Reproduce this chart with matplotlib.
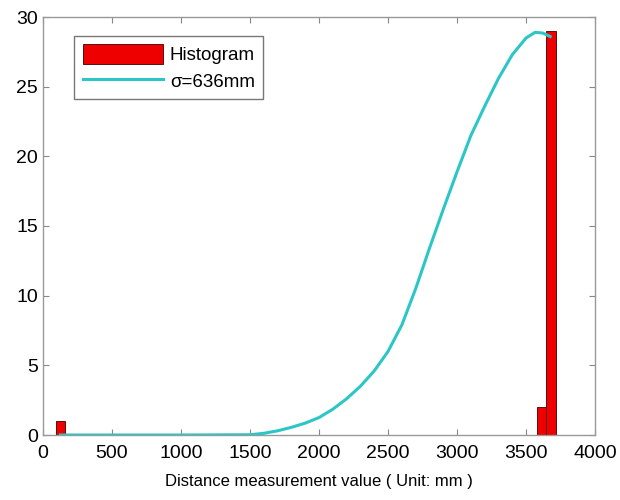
import matplotlib
matplotlib.use("Agg")
import matplotlib.pyplot as plt

plt.rcParams['font.family'] = ['Liberation Sans', 'DejaVu Sans']

# histogram bins (centre, count)
bin_centers = [128, 3612, 3680]
bin_counts = [1, 2, 29]
bin_width = 67

# fitted curve
curve_x = [128, 500, 1000, 1500, 1600, 1700, 1800, 1900, 2000, 2100, 2200,
           2300, 2400, 2500, 2600, 2700, 2800, 2900, 3000, 3100, 3200, 3300,
           3400, 3500, 3565, 3620, 3674]
curve_y = [0, 0, 0, 0.02, 0.12, 0.3, 0.55, 0.85, 1.25, 1.85, 2.6,
           3.5, 4.6, 6.0, 7.9, 10.5, 13.4, 16.2, 18.9, 21.5, 23.6, 25.6,
           27.3, 28.5, 28.9, 28.85, 28.6]

fig = plt.figure(figsize=(6.2, 5.0), dpi=100)
ax = fig.add_axes([0.069, 0.13, 0.891, 0.836])

bars = ax.bar(bin_centers, bin_counts, width=bin_width, color='#ee0000',
              edgecolor='#5a1010', linewidth=0.7, zorder=2)
line, = ax.plot(curve_x, curve_y, color='#2cc6c6', linewidth=2.2, zorder=3)

ax.set_xlim(0, 4000)
ax.set_ylim(0, 30)
ax.set_xticks(range(0, 4001, 500))
ax.set_yticks(range(0, 31, 5))
ax.tick_params(direction='in', top=True, right=True, labelsize=14,
               color='#888888', length=4)
ax.tick_params(axis='x', pad=7)
for s in ax.spines.values():
    s.set_color('#999999')
    s.set_linewidth(1.0)

ax.set_xlabel('Distance measurement value ( Unit: mm )', fontsize=12, labelpad=9)

leg = ax.legend([bars, line], ['Histogram', 'σ=636mm'], loc='upper left',
                bbox_to_anchor=(0.04, 0.978), fontsize=13.5,
                fancybox=False, edgecolor='#777777', framealpha=1,
                handlelength=4.3, handleheight=1.25, labelspacing=0.35,
                borderpad=0.45, handletextpad=0.35)
leg.get_frame().set_linewidth(1.0)

fig.savefig('out.png', dpi=100)
